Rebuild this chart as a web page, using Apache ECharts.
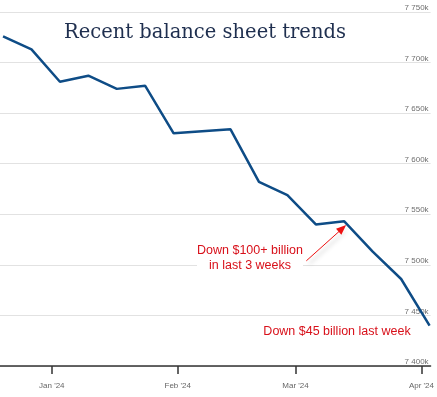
<!DOCTYPE html>
<html>
<head>
<meta charset="utf-8">
<script src="https://cdn.jsdelivr.net/npm/echarts@6/dist/echarts.min.js"></script>
<style>
  html, body { margin: 0; padding: 0; background: #fff; }
  #chart { width: 437px; height: 397px; }
</style>
</head>
<body>
<div id="chart"></div>
<script>
// Weekly total assets (billions)
var weekDates = ['2023-12-20', '2023-12-27', '2024-01-03', '2024-01-10', '2024-01-17', '2024-01-24',
    '2024-01-31', '2024-02-07', '2024-02-14', '2024-02-21', '2024-02-28', '2024-03-06',
    '2024-03-13', '2024-03-20', '2024-03-27', '2024-04-03'];
var totalAssets = [7726, 7713, 7681, 7687, 7674, 7677, 7630, 7632, 7634, 7582, 7569, 7540, 7543, 7513, 7486, 7440];

var monthNames = ['Jan', 'Feb', 'Mar', 'Apr', 'May', 'Jun', 'Jul', 'Aug', 'Sep', 'Oct', 'Nov', 'Dec'];

// annotation arrow, in data coordinates
var arrowFrom = ['2024-03-03T16:00', 7504];
var arrowTo = ['2024-03-12T13:00', 7536];

var seriesData = weekDates.map(function (d, i) {
    return [d, totalAssets[i]];
});

var chart = echarts.init(document.getElementById('chart'));

var option = {
    backgroundColor: '#fff',
    animation: false,
    title: {
        text: 'Recent balance sheet trends',
        left: 200,
        top: 18,
        textAlign: 'center',
        textStyle: {
            fontFamily: 'DejaVu Serif',
            fontWeight: 'normal',
            fontSize: 19.5,
            color: '#1f2f4f'
        }
    },
    grid: { left: 0, right: 6, top: 12, bottom: 31 },
    xAxis: {
        type: 'time',
        min: '2023-12-19T06:00',
        max: '2024-04-03T06:00',
        minInterval: 28 * 86400000,
        maxInterval: 31 * 86400000,
        axisLine: { lineStyle: { color: '#333', width: 1.5 } },
        axisTick: { show: true, length: 8, lineStyle: { color: '#333', width: 1.5 } },
        splitLine: { show: false },
        axisLabel: {
            color: '#666',
            fontSize: 8,
            fontFamily: 'Liberation Sans',
            margin: 16,
            formatter: function (val) {
                var d = new Date(val);
                return monthNames[d.getMonth()] + " '" + String(d.getFullYear()).slice(2);
            }
        }
    },
    yAxis: {
        type: 'value',
        position: 'right',
        min: 7400,
        max: 7750,
        interval: 50,
        axisLine: { show: false },
        axisTick: { show: false },
        splitLine: { lineStyle: { color: '#e2e2e2', width: 1 } },
        axisLabel: {
            inside: true,
            margin: 2,
            color: '#6f6f6f',
            fontSize: 8,
            fontFamily: 'Liberation Sans',
            verticalAlign: 'bottom',
            formatter: function (v) {
                return Math.floor(v / 1000) + ' ' + (v % 1000 === 0 ? '000' : String(v % 1000)) + 'k';
            }
        }
    },
    series: [
        {
            name: 'Total assets',
            type: 'line',
            data: seriesData,
            showSymbol: false,
            symbol: 'none',
            lineStyle: { color: '#0e4c86', width: 2.5 },
            z: 3,
            markLine: {
                silent: true,
                symbol: ['none', 'triangle'],
                symbolSize: [8, 10],
                label: { show: false },
                lineStyle: {
                    color: '#ee1111',
                    type: 'solid',
                    width: 1,
                    shadowColor: 'rgba(0,0,0,0.35)',
                    shadowBlur: 4,
                    shadowOffsetX: 3,
                    shadowOffsetY: 3
                },
                data: [[{ coord: arrowFrom }, { coord: arrowTo }]]
            }
        }
    ],
    graphic: [
        {
            type: 'text',
            x: 250,
            y: 243,
            z: 10,
            style: {
                text: 'Down $100+ billion\nin last 3 weeks',
                align: 'center',
                fill: '#d8101a',
                font: '12.5px "Liberation Sans"',
                lineHeight: 15,
                backgroundColor: '#fff'
            }
        },
        {
            type: 'text',
            x: 337,
            y: 324,
            z: 10,
            style: {
                text: 'Down $45 billion last week',
                align: 'center',
                fill: '#d8101a',
                font: '12.5px "Liberation Sans"',
                lineHeight: 15
            }
        }
    ]
};

chart.setOption(option);
</script>
</body>
</html>
